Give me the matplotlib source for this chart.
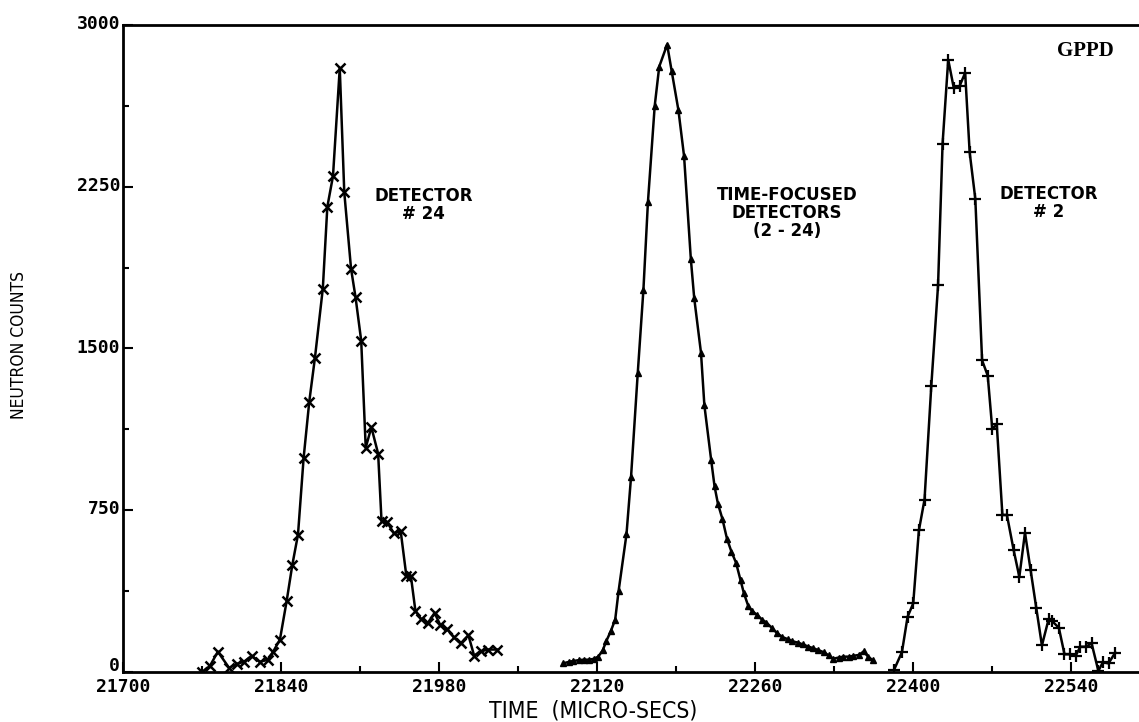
import numpy as np
import matplotlib
matplotlib.use("Agg")
import matplotlib.pyplot as plt
import matplotlib.transforms as mtransforms
from matplotlib.ticker import MultipleLocator, FixedLocator

# detector 24 (x markers)
det24_t = [21770, 21777, 21784, 21794, 21801, 21807, 21814, 21821, 21828, 21833,
           21839, 21845, 21850, 21855, 21860, 21865, 21870, 21877, 21881, 21886,
           21892, 21896, 21902, 21906, 21911, 21915, 21920, 21926, 21929, 21934,
           21940, 21946, 21951, 21955, 21959, 21964, 21970, 21976, 21981, 21987,
           21993, 21999, 22006, 22011, 22017, 22023, 22031]
det24_n = [0, 28, 94, 19, 38, 47, 75, 47, 56, 94,
           150, 330, 497, 637, 993, 1254, 1456, 1778, 2157, 2299,
           2800, 2224, 1870, 1737, 1536, 1040, 1135, 1012, 700, 694,
           643, 652, 445, 445, 284, 246, 227, 274, 218, 199,
           161, 132, 170, 76, 95, 104, 104]

# time-focused detectors 2-24 (triangles)
focus_t = [22090, 22095, 22099, 22104, 22108, 22113, 22117, 22121, 22125, 22128,
           22132, 22136, 22139, 22146, 22150, 22156, 22161, 22165, 22171, 22175,
           22182, 22186, 22192, 22197, 22203, 22206, 22212, 22215, 22221, 22224,
           22227, 22231, 22235, 22239, 22243, 22247, 22250, 22254, 22257, 22262,
           22266, 22270, 22275, 22279, 22284, 22289, 22293, 22298, 22302, 22307,
           22311, 22316, 22321, 22325, 22329, 22334, 22338, 22343, 22347, 22352,
           22356, 22360, 22364]
focus_n = [40, 47, 51, 55, 57, 57, 61, 71, 101, 142,
           188, 243, 375, 639, 902, 1388, 1773, 2179, 2625, 2807,
           2909, 2787, 2605, 2392, 1915, 1733, 1480, 1236, 983, 861,
           780, 709, 618, 557, 507, 426, 365, 304, 284, 263,
           243, 229, 203, 182, 162, 152, 142, 136, 128, 118,
           111, 101, 91, 77, 61, 67, 71, 71, 75, 79,
           95, 71, 55]

# detector 2 (+ markers)
det2_t = [22383, 22390, 22395, 22400, 22405, 22410, 22416, 22422, 22426, 22431,
          22436, 22441, 22446, 22450, 22455, 22461, 22466, 22470, 22474, 22479,
          22483, 22489, 22494, 22499, 22504, 22509, 22514, 22520, 22523, 22529,
          22534, 22539, 22544, 22548, 22553, 22558, 22564, 22568, 22573, 22579]
det2_n = [10, 92, 256, 318, 656, 799, 1326, 1793, 2450, 2839,
          2706, 2716, 2778, 2409, 2194, 1445, 1374, 1127, 1148, 728,
          728, 564, 441, 646, 472, 297, 123, 246, 236, 205,
          82, 82, 76, 117, 117, 133, 5, 45, 40, 90]

x_ticks = [21700, 21840, 21980, 22120, 22260, 22400, 22540]
y_ticks = [0, 750, 1500, 2250, 3000]

fig = plt.figure(figsize=(11.39, 7.22), dpi=100)
ax = fig.add_axes([0.108, 0.0693, 0.892, 0.8961])

lw = 1.8
ax.plot(det24_t, det24_n, color="black", lw=lw, marker="x", ms=7, mew=1.8)
ax.plot(focus_t, focus_n, color="black", lw=lw, marker="^", ms=5, mew=1.0)
ax.plot(det2_t, det2_n, color="black", lw=lw, marker="+", ms=9, mew=1.6)

ax.set_xlim(21700, 22600)
ax.set_ylim(0, 3000)

ax.xaxis.set_major_locator(FixedLocator(x_ticks))
ax.xaxis.set_minor_locator(MultipleLocator(70))
ax.yaxis.set_major_locator(FixedLocator(y_ticks))
ax.yaxis.set_minor_locator(MultipleLocator(375))
ax.tick_params(which="both", direction="in", width=1.5, pad=2)
ax.tick_params(which="major", length=7)
ax.tick_params(which="minor", length=4)

tick_font = dict(family="DejaVu Sans Mono", weight="bold", size=13)
ax.set_xticklabels([str(v) for v in x_ticks], **tick_font)
ax.set_yticklabels([str(v) for v in y_ticks], **tick_font)
# y labels sit a touch above their ticks, x labels a bit lower
up = mtransforms.ScaledTranslation(0, 2 / 72, fig.dpi_scale_trans)
up0 = mtransforms.ScaledTranslation(0, 6 / 72, fig.dpi_scale_trans)
down = mtransforms.ScaledTranslation(0, -2 / 72, fig.dpi_scale_trans)
ylabs = ax.get_yticklabels()
for i, t in enumerate(ylabs):
    t.set_transform(t.get_transform() + (up0 if i == 0 else up))
for t in ax.get_xticklabels():
    t.set_transform(t.get_transform() + down)

for s in ["left", "bottom", "top"]:
    ax.spines[s].set_linewidth(2)
ax.spines["right"].set_visible(False)

ax.set_xlabel("TIME  (MICRO-SECS)", family="DejaVu Sans", stretch="condensed", size=16.5)
ax.set_ylabel("NEUTRON COUNTS", family="DejaVu Sans", stretch="condensed", size=12.5)
ax.xaxis.set_label_coords(0.463, -0.043)
ax.yaxis.set_label_coords(-0.094, 0.505)

note = dict(ha="center", va="center", family="DejaVu Sans", weight="bold",
            size=12, linespacing=1.0)
ax.text(21966, 2165, "DETECTOR\n# 24", **note)
ax.text(22288, 2128, "TIME-FOCUSED\nDETECTORS\n(2 - 24)", **note)
ax.text(22520, 2174, "DETECTOR\n# 2", **note)
ax.text(22578, 2880, "GPPD", ha="right", va="center",
        family="Liberation Serif", weight="bold", size=15)

fig.savefig("out.png", dpi=100)
